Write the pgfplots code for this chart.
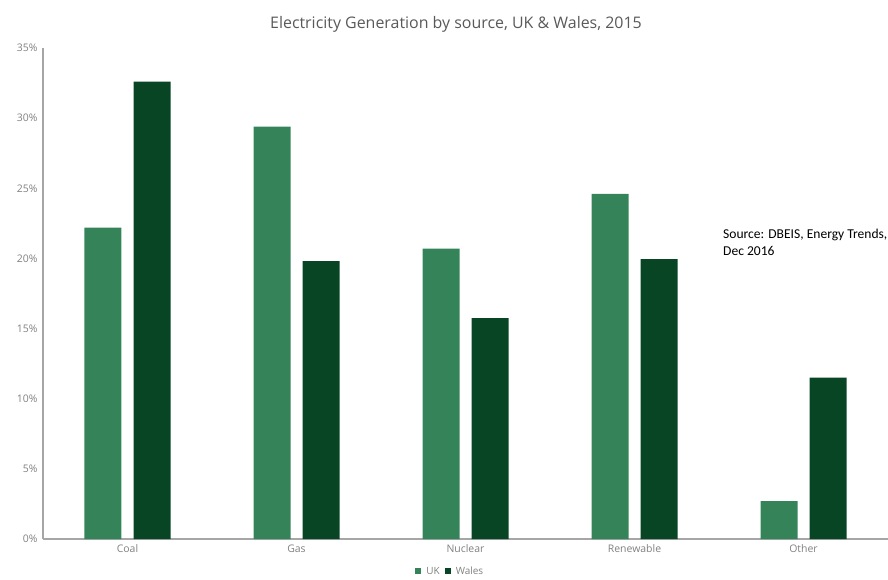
\documentclass[border=0pt]{standalone}
\usepackage{pgfplots}
\pgfplotsset{compat=1.18}
\usepackage{fontspec}
\setmainfont{Open Sans}
\newfontfamily\calibri{Carlito}
\definecolor{ukgreen}{RGB}{53,132,89}
\definecolor{walesgreen}{RGB}{7,69,37}
\definecolor{txtgray}{RGB}{89,89,89}
\definecolor{tickgray}{RGB}{128,128,128}
\definecolor{axgray}{RGB}{166,166,166}
\begin{document}
\begin{tikzpicture}[x=1bp,y=1bp]
\path[use as bounding box] (-43bp,-41bp) rectangle (845bp,539bp);
\begin{axis}[
  at={(0,0)}, anchor=south west,
  scale only axis, width=845bp, height=491bp,
  ybar=12bp, bar width=37bp,
  xmin=-0.5, xmax=4.5, ymin=0, ymax=35,
  xtick={0,1,2,3,4},
  xticklabels={Coal,Gas,Nuclear,Renewable,Other},
  ytick={0,5,10,15,20,25,30,35},
  yticklabel={\pgfmathprintnumber{\tick}\%},
  /pgf/number format/assume math mode=true,
  axis x line*=bottom, axis y line*=left,
  axis line style={axgray, line width=1.2pt, -},
  major tick length=0pt,
  tick style={draw=none},
  ticklabel style={font=\fontsize{10.5}{12}\selectfont, text=tickgray},
  xticklabel style={yshift=-2bp},
  yticklabel style={xshift=-2bp},
  legend style={at={(0.482,-0.052)}, anchor=north, draw=none,
    font=\fontsize{10}{11}\selectfont, text=tickgray, legend columns=2,
    column sep=3bp, inner sep=0pt},
  legend image code/.code={\fill[#1] (0bp,-3bp) rectangle (6bp,3bp);},
  clip=false,
]
\addplot[fill=ukgreen, draw=none] coordinates {(0,22.2) (1,29.4) (2,20.7) (3,24.6) (4,2.7)};
\addplot[fill=walesgreen, draw=none] coordinates {(0,32.6) (1,19.8) (2,15.75) (3,19.95) (4,11.5)};
\legend{UK,Wales}
\end{axis}
\node[anchor=base, text=txtgray, font=\fontsize{16}{19}\selectfont] at (413bp,510bp) {Electricity Generation by source, UK \& Wales, 2015};
\node[anchor=north west, align=left, inner sep=0pt, font=\calibri\fontsize{13.6}{17}\selectfont] at (680bp,310bp) {Source: DBEIS, Energy Trends,\\Dec 2016};
\end{tikzpicture}
\end{document}
